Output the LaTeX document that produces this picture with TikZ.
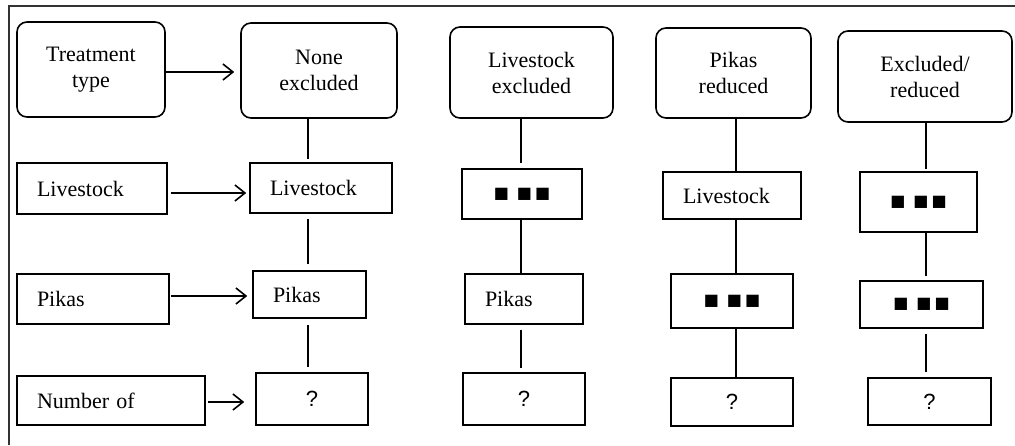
\documentclass[tikz,border=0pt]{standalone}
\usepackage{fontspec}
\setmainfont{Liberation Serif}
\newfontfamily\arialfont{Liberation Sans}
\newfontfamily\symfont{DejaVu Sans}
\usetikzlibrary{arrows.meta}
\newcommand{\sqs}{{\symfont\fontsize{16}{16}\selectfont ■\hspace{8pt}■\hspace{3pt}■}}

\begin{document}
\begin{tikzpicture}[x=1pt,y=-1pt,line width=1.6pt,
  every node/.style={font=\fontsize{22}{26}\selectfont},
  rbox/.style={draw,rounded corners=10pt,align=center},
  lbox/.style={draw,align=left,inner xsep=20pt},
  cbox/.style={draw,font=\arialfont\fontsize{22}{26}\selectfont},
  arr/.style={-{Straight Barb[length=10pt,width=16pt,line width=1.6pt]}}]
\useasboundingbox (0,0) rectangle (1015,445);
\draw[line width=2pt,black!80] (9,445) -- (9,6) -- (1015,6);
\node[rbox,minimum width=148pt,minimum height=95pt] (T) at (91,69.5) {Treatment\\type};
\node[lbox,text width=110pt,minimum height=51pt] (L) at (92,188.5) {Livestock};
\node[lbox,text width=112pt,minimum height=50pt] (P) at (93,299) {Pikas};
\node[lbox,text width=148pt,minimum height=49pt] (Nm) at (111,400.5) {Number of};
\node[rbox,minimum width=156pt,minimum height=95pt] (N1) at (319,70.5) {None\\excluded};
\node[lbox,text width=102pt,minimum height=50pt] (L1) at (321,188) {Livestock};
\node[lbox,text width=73pt,minimum height=47pt] (P1) at (309.5,294.5) {Pikas};
\node[cbox,minimum width=112pt,minimum height=52pt] (Q1) at (312,399) {?};
\node[rbox,minimum width=163pt,minimum height=91pt] (N2) at (531.5,72.5) {Livestock\\excluded};
\node[cbox,minimum width=120pt,minimum height=50pt] (S2) at (522,194) {\sqs};
\node[lbox,text width=78pt,minimum height=50pt] (P2) at (524,299) {Pikas};
\node[cbox,minimum width=122pt,minimum height=52pt] (Q2) at (524,399) {?};
\node[rbox,minimum width=155pt,minimum height=90pt] (N3) at (733.5,73) {Pikas\\reduced};
\node[lbox,text width=98pt,minimum height=47pt] (L3) at (732,195.5) {Livestock};
\node[cbox,minimum width=122pt,minimum height=54pt] (S3) at (732,301) {\sqs};
\node[cbox,minimum width=122pt,minimum height=48pt] (Q3) at (732,402) {?};
\node[rbox,minimum width=174pt,minimum height=91pt] (N4) at (925,76.5) {Excluded/\\reduced};
\node[cbox,minimum width=117pt,minimum height=60pt] (S4) at (918.5,202) {\sqs};
\node[cbox,minimum width=123pt,minimum height=47pt] (R4) at (921.5,304.5) {\sqs};
\node[cbox,minimum width=123pt,minimum height=47pt] (Q4) at (929.5,401.5) {?};
\draw[arr,shorten >=6pt] (T.east |- 0,72) -- (N1.west |- 0,72);
\draw[arr,shorten <=3pt,shorten >=3pt] (L.east |- 0,193) -- (L1.west |- 0,193);
\draw[arr,shorten <=1pt,shorten >=5pt] (P.east |- 0,296) -- (P1.west |- 0,296);
\draw[arr,shorten <=2pt,shorten >=11pt] (Nm.east |- 0,402) -- (Q1.west |- 0,402);
\foreach \a/\b/\x/\s/\t in {N1/L1/308/0/3,L1/P1/308/5/6,P1/Q1/308/6/5,
  N2/S2/521/0/5,S2/P2/521/0/0,P2/Q2/521/5/4,
  N3/L3/736/0/0,L3/S3/736/0/0,S3/Q3/736/0/0,
  N4/S4/926/0/2,S4/R4/926/0/4,R4/Q4/926/5/5}
  \draw[shorten <=\s pt,shorten >=\t pt] (\a.south -| \x,0) -- (\b.north -| \x,0);
\end{tikzpicture}
\end{document}
